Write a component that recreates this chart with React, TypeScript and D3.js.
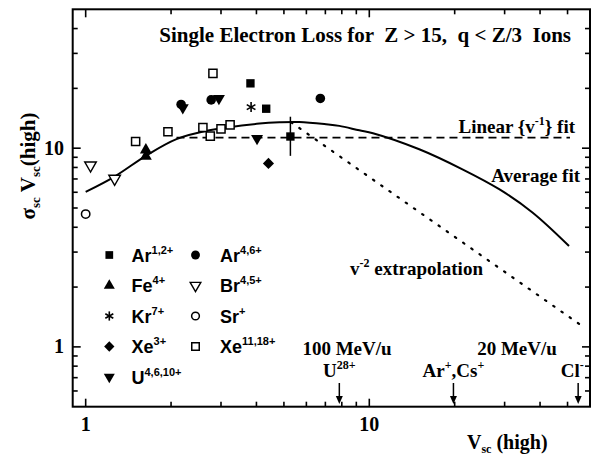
import React from 'react';
import * as d3 from 'd3';

const W = 593, H = 456;
const xDomain = [0.9, 60];
const yDomain = [0.5, 50];
const xMajor = [1, 10];
const xMinor = [2, 3, 4, 5, 6, 7, 8, 9, 20, 30, 40, 50];
const yMajor = [1, 10];
const yMinor = [0.6, 0.7, 0.8, 0.9, 2, 3, 4, 5, 6, 7, 8, 9, 20, 30, 40];

// Data series (V_sc, sigma*V_sc)
const ar12 = [{ x: 3.81, y: 21.2 }, { x: 4.33, y: 15.8 }, { x: 5.27, y: 11.45 }];
const ar46 = [{ x: 2.17, y: 16.6 }, { x: 2.77, y: 17.5 }, { x: 6.72, y: 17.8 }];
const fe4 = [{ x: 1.63, y: 9.8 }, { x: 1.63, y: 9.1 }];
const br45 = [{ x: 1.04, y: 8.2 }, { x: 1.265, y: 7.03 }];
const kr7 = [{ x: 3.83, y: 16.1 }];
const srp = [{ x: 1.0, y: 4.66 }];
const xe3 = [{ x: 4.41, y: 8.38 }];
const xe1118 = [
  { x: 1.5, y: 10.8 }, { x: 1.95, y: 12.1 }, { x: 2.59, y: 12.7 }, { x: 2.75, y: 11.5 },
  { x: 3.0, y: 12.5 }, { x: 3.23, y: 13.1 }, { x: 2.81, y: 23.8 },
];
const u4610 = [{ x: 2.2, y: 16.0 }, { x: 2.95, y: 17.8 }, { x: 4.02, y: 11.2 }];
const errBar = { x: 5.27, lo: 9.15, hi: 14.4 };

const avgFit = [
  [1.0, 6.03], [1.265, 7.2], [1.63, 9.15], [2.09, 11.1], [2.73, 12.3], [4.1, 13.3],
  [4.82, 13.5], [5.67, 13.55], [7.04, 13.2], [7.84, 12.95], [9.22, 12.3], [10.3, 11.9],
  [15.0, 9.88], [21.3, 7.83], [28.7, 6.22], [37.6, 4.75], [50.6, 3.22],
];
const linearFit = [[2.09, 11.3], [51, 11.3]];
const v2Extrap = [[5.3, 13.5], [56, 1.28]];

const arrowMarks = [
  { x: 7.84, label: 'U', sup: '28+' },
  { x: 19.8, label: 'Ar', sup: '+', label2: ',Cs', sup2: '+' },
  { x: 54.5, label: 'Cl', sup: '-' },
];

const x = d3.scaleLog().domain(xDomain).range([72.7, 590]);
const y = d3.scaleLog().domain(yDomain).range([406.7, 9.3]);

const SERIF = '"Liberation Serif", "Times New Roman", serif';
const SANS = '"Liberation Sans", Arial, sans-serif';

type Kind = 'sq' | 'circ' | 'tri' | 'triDownOpen' | 'ast' | 'circOpen' | 'diam' | 'sqOpen' | 'triDown';

function Marker({ kind, cx, cy, scale = 1 }: { kind: Kind; cx: number; cy: number; scale?: number }) {
  const t = `translate(${cx},${cy})`;
  switch (kind) {
    case 'sq':
      return <path transform={t} d={d3.symbol().type(d3.symbolSquare).size(70 * scale)()!} fill="#000" />;
    case 'sqOpen':
      return <path transform={t} d={d3.symbol().type(d3.symbolSquare).size(66 * scale)()!} fill="#fff" stroke="#000" strokeWidth={1.5} />;
    case 'circ':
      return <circle cx={cx} cy={cy} r={4.8 * Math.sqrt(scale)} fill="#000" />;
    case 'circOpen':
      return <circle cx={cx} cy={cy} r={4.2 * Math.sqrt(scale)} fill="#fff" stroke="#000" strokeWidth={1.5} />;
    case 'tri':
      return <path transform={t} d={d3.symbol().type(d3.symbolTriangle).size(62 * scale)()!} fill="#000" />;
    case 'triDown':
      return <path transform={`${t} rotate(180)`} d={d3.symbol().type(d3.symbolTriangle).size(62 * scale)()!} fill="#000" />;
    case 'triDownOpen':
      return <path transform={`${t} rotate(180)`} d={d3.symbol().type(d3.symbolTriangle).size(58 * scale)()!} fill="#fff" stroke="#000" strokeWidth={1.4} />;
    case 'diam':
      return <path transform={`${t} rotate(45)`} d={d3.symbol().type(d3.symbolSquare).size(62 * scale)()!} fill="#000" />;
    case 'ast': {
      const r = 5 * Math.sqrt(scale);
      const angles = [90, 30, 150];
      return (
        <g transform={t} stroke="#000" strokeWidth={1.6}>
          {angles.map((a) => {
            const rad = (a * Math.PI) / 180;
            return <line key={a} x1={-r * Math.cos(rad)} y1={-r * Math.sin(rad)} x2={r * Math.cos(rad)} y2={r * Math.sin(rad)} />;
          })}
        </g>
      );
    }
  }
  return null;
}

const seriesList: { kind: Kind; data: { x: number; y: number }[]; name: string; sup: string }[] = [
  { kind: 'sq', data: ar12, name: 'Ar', sup: '1,2+' },
  { kind: 'circ', data: ar46, name: 'Ar', sup: '4,6+' },
  { kind: 'tri', data: fe4, name: 'Fe', sup: '4+' },
  { kind: 'triDownOpen', data: br45, name: 'Br', sup: '4,5+' },
  { kind: 'ast', data: kr7, name: 'Kr', sup: '7+' },
  { kind: 'circOpen', data: srp, name: 'Sr', sup: '+' },
  { kind: 'diam', data: xe3, name: 'Xe', sup: '3+' },
  { kind: 'sqOpen', data: xe1118, name: 'Xe', sup: '11,18+' },
  { kind: 'triDown', data: u4610, name: 'U', sup: '4,6,10+' },
];

export default function App() {
  const line = d3.line<number[]>().x((d) => x(d[0])).y((d) => y(d[1]));
  const smooth = d3.line<number[]>().x((d) => x(d[0])).y((d) => y(d[1])).curve(d3.curveCatmullRom.alpha(0.5));
  const [x0, x1] = x.range();
  const [y0, y1] = y.range();
  const legendCols = [109.3, 195.5];
  const legendTextCols = [131.5, 220];
  const legendRows = [255, 285.5, 316, 346.5, 377];

  return (
    <svg width={W} height={H} style={{ position: 'absolute', left: 0, top: 0, background: '#fff' }}>
      <rect x={0} y={0} width={W} height={H} fill="#fff" />
      {/* fits */}
      <path d={smooth(avgFit)!} fill="none" stroke="#000" strokeWidth={2} />
      <path d={line(linearFit)!} fill="none" stroke="#000" strokeWidth={1.8} strokeDasharray="8,5" />
      <path d={line(v2Extrap)!} fill="none" stroke="#000" strokeWidth={2.2} strokeDasharray="1.5,8.5" strokeLinecap="round" />
      {/* error bar */}
      <line x1={x(errBar.x)} x2={x(errBar.x)} y1={y(errBar.lo)} y2={y(errBar.hi)} stroke="#000" strokeWidth={1.5} />
      {/* data */}
      {seriesList.map((s, i) => (
        <g key={i}>
          {s.data.map((d, j) => (
            <Marker key={j} kind={s.kind} cx={x(d.x)} cy={y(d.y)} />
          ))}
        </g>
      ))}
      {/* frame */}
      <rect x={x0} y={y1} width={x1 - x0} height={y0 - y1} fill="none" stroke="#000" strokeWidth={2} />
      {/* ticks */}
      <g stroke="#000" strokeWidth={1.6}>
        {xMajor.map((v) => (
          <g key={'xM' + v}>
            <line x1={x(v)} x2={x(v)} y1={y0} y2={y0 - 8} />
            <line x1={x(v)} x2={x(v)} y1={y1} y2={y1 + 8} />
          </g>
        ))}
        {xMinor.map((v) => (
          <g key={'xm' + v}>
            <line x1={x(v)} x2={x(v)} y1={y0} y2={y0 - 5} />
            <line x1={x(v)} x2={x(v)} y1={y1} y2={y1 + 5} />
          </g>
        ))}
        {yMajor.map((v) => (
          <g key={'yM' + v}>
            <line x1={x0} x2={x0 + 8} y1={y(v)} y2={y(v)} />
            <line x1={x1} x2={x1 - 8} y1={y(v)} y2={y(v)} />
          </g>
        ))}
        {yMinor.map((v) => (
          <g key={'ym' + v}>
            <line x1={x0} x2={x0 + 5} y1={y(v)} y2={y(v)} />
            <line x1={x1} x2={x1 - 5} y1={y(v)} y2={y(v)} />
          </g>
        ))}
      </g>
      {/* tick labels */}
      <g fontFamily={SERIF} fontWeight="bold" fontSize={20} fill="#000">
        {xMajor.map((v) => (
          <text key={'xl' + v} x={x(v)} y={431} textAnchor="middle">{v}</text>
        ))}
        {yMajor.map((v) => (
          <text key={'yl' + v} x={64} y={y(v) + 6.5} textAnchor="end">{v}</text>
        ))}
      </g>
      {/* axis titles */}
      <text x={467} y={449} fontFamily={SERIF} fontWeight="bold" fontSize={20} style={{ whiteSpace: 'pre' }}>
        V<tspan fontSize={12} dy={4}>sc</tspan><tspan dy={-4}> (high)</tspan>
      </text>
      <text transform="translate(35,166) rotate(-90)" textAnchor="middle" fontFamily={SERIF} fontWeight="bold" fontSize={21} style={{ whiteSpace: 'pre' }}>
        σ<tspan fontSize={13} dy={5}>sc</tspan><tspan dy={-5}> V</tspan><tspan fontSize={13} dy={5}>sc</tspan><tspan dy={-5}>(high)</tspan>
      </text>
      {/* title */}
      <text x={571} y={42} textAnchor="end" fontFamily={SERIF} fontWeight="bold" fontSize={21} style={{ whiteSpace: 'pre' }}>
        {'Single Electron Loss for  Z > 15,  q < Z/3  Ions'}
      </text>
      {/* fit labels */}
      <g fontFamily={SERIF} fontWeight="bold" fontSize={19} style={{ whiteSpace: 'pre' }}>
        <text x={575} y={133} textAnchor="end">
          {'Linear {v'}<tspan fontSize={12} dy={-8}>-1</tspan><tspan dy={8}>{'} fit'}</tspan>
        </text>
        <text x={580} y={182} textAnchor="end">Average fit</text>
        <text x={350} y={275}>
          v<tspan fontSize={12} dy={-8}>-2</tspan><tspan dy={8}> extrapolation</tspan>
        </text>
        <text x={347} y={355} textAnchor="middle">100 MeV/u</text>
        <text x={517} y={355} textAnchor="middle">20 MeV/u</text>
      </g>
      {/* arrows */}
      <g fontFamily={SERIF} fontWeight="bold" fontSize={19}>
        {arrowMarks.map((a, i) => {
          const ax = x(a.x);
          return (
            <g key={i}>
              <line x1={ax} x2={ax} y1={383} y2={398} stroke="#000" strokeWidth={1.5} />
              <path d={`M${ax - 3.5},${396} L${ax + 3.5},${396} L${ax},${404} Z`} fill="#000" />
              <text x={i === 2 ? ax - 6 : ax} y={377} textAnchor="middle">
                {a.label}<tspan fontSize={12} dy={-8}>{a.sup}</tspan>
                {a.label2 ? (
                  <>
                    <tspan dy={8}>{a.label2}</tspan><tspan fontSize={12} dy={-8}>{a.sup2}</tspan>
                  </>
                ) : null}
              </text>
            </g>
          );
        })}
      </g>
      {/* legend */}
      <g fontFamily={SANS} fontWeight="bold" fontSize={18}>
        {seriesList.map((s, i) => {
          const col = i % 2;
          const row = Math.floor(i / 2);
          const cy = legendRows[row];
          return (
            <g key={'lg' + i}>
              <Marker kind={s.kind} cx={legendCols[col]} cy={cy} scale={0.85} />
              <text x={legendTextCols[col]} y={cy + 6.5}>
                {s.name}<tspan fontSize={11} dy={-8}>{s.sup}</tspan>
              </text>
            </g>
          );
        })}
      </g>
    </svg>
  );
}
